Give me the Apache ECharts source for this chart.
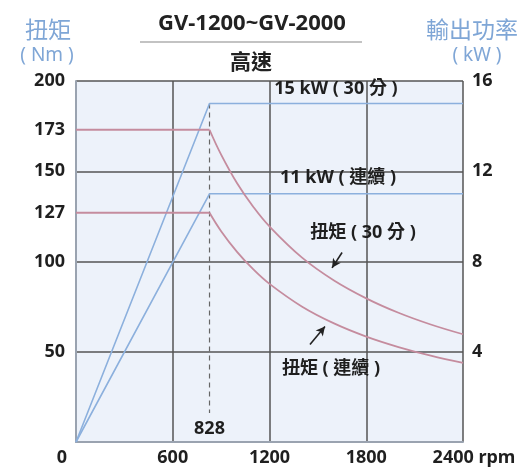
<!DOCTYPE html>
<html><head><meta charset="utf-8">
<script src="https://cdn.jsdelivr.net/npm/echarts@6/dist/echarts.min.js"></script>
<style>html,body{margin:0;padding:0;background:#fff}#c{width:532px;height:470px}</style>
</head><body><div id="c"></div>
<script>
// ---- data ----
const rpmTicks = [0, 600, 1200, 1800, 2400];
const torqueTicks = [50, 100, 127, 150, 173, 200];
const powerTicks = [4, 8, 12, 16];
const baseRpm = 828;
// output power (kW shown on right axis, plotted in Nm-scale: kW / 0.08)
const power30 = [[0, 0], [828, 187.5], [2400, 187.5]];          // 15 kW
const powerCont = [[0, 0], [828, 137.5], [2400, 137.5]];        // 11 kW
// torque (Nm): constant part and falling part
const torque30Flat = [[0, 173], [828, 173]];
const torque30Fall = [[828, 173], [900, 159.2], [1000, 143.2], [1100, 130.2], [1200, 119.4], [1400, 102.3], [1600, 89.5], [1800, 79.6], [2000, 71.6], [2200, 65.1], [2400, 59.7]];
const torqueContFlat = [[0, 127], [828, 127]];
const torqueContFall = [[828, 127], [900, 116.8], [1000, 105.2], [1100, 95.6], [1200, 87.6], [1400, 75.1], [1600, 65.7], [1800, 58.4], [2000, 52.6], [2200, 47.8], [2400, 43.8]];
const baseLine = [[828, 187.5], [828, 16]];
const arrow30 = [[1650, 105], [1588, 96.5]];
const arrowCont = [[1451, 54], [1544, 64]];

const F = "'Noto Sans','Noto Sans CJK TC',sans-serif";
const BLUE = '#8cb0dd', PINK = '#c58c9e', GRID = '#555', EDGE = '#9aa3b0', TXT = '#1f1f1f', HEAD = '#7fa6d6';

const chart = echarts.init(document.getElementById('c'));
const tick = { fontFamily: F, fontSize: 18, fontWeight: 'bold', color: TXT };
chart.setOption({
  animation: false,
  grid: { left: 76, right: 69, top: 81, bottom: 28, show: true, backgroundColor: '#edf2fa', borderWidth: 0 },
  xAxis: {
    type: 'value', min: 0, max: 2400, interval: 600,
    axisLine: { show: true, lineStyle: { color: EDGE, width: 2 } },
    axisTick: { show: false },
    splitLine: { show: true, lineStyle: { color: [EDGE, GRID, GRID, GRID, GRID], width: 1.5 } },
    axisLabel: Object.assign({}, tick, {
      margin: 7,
      formatter: v => v === 0 ? '{z|0}' : (v === 2400 ? '{e|2400 rpm}' : String(v)),
      rich: { z: Object.assign({}, tick, { padding: [0, 28, 0, 0] }),
              e: Object.assign({}, tick, { padding: [0, 0, 0, 22] }) }
    })
  },
  yAxis: [{
    type: 'value', min: 0, max: 200, position: 'left',
    axisLine: { show: true, lineStyle: { color: EDGE, width: 2 } },
    axisTick: { show: false }, splitLine: { show: false },
    axisLabel: Object.assign({}, tick, { customValues: torqueTicks, margin: 11 })
  }, {
    type: 'value', min: 0, max: 16, interval: 4, position: 'right',
    axisLine: { show: false }, axisTick: { show: false },
    splitLine: { show: true, lineStyle: { color: [EDGE, GRID, GRID, GRID, GRID], width: 1.5 } },
    axisLabel: Object.assign({}, tick, { margin: 9,
      formatter: v => powerTicks.includes(v) ? String(v) : '' })
  }],
  series: [
    { type: 'line', data: power30, symbol: 'none', lineStyle: { color: BLUE, width: 1.6 }, z: 3 },
    { type: 'line', data: powerCont, symbol: 'none', lineStyle: { color: BLUE, width: 1.6 }, z: 3 },
    { type: 'line', data: torque30Flat, symbol: 'none', lineStyle: { color: PINK, width: 1.8 }, z: 3 },
    { type: 'line', data: torque30Fall, symbol: 'none', smooth: 0.4, lineStyle: { color: PINK, width: 1.8 }, z: 3 },
    { type: 'line', data: torqueContFlat, symbol: 'none', lineStyle: { color: PINK, width: 1.8 }, z: 3 },
    { type: 'line', data: torqueContFall, symbol: 'none', smooth: 0.4, lineStyle: { color: PINK, width: 1.8 }, z: 3 },
    { type: 'line', data: baseLine, symbol: 'none', lineStyle: { color: '#666', width: 1.2, type: [5, 4] }, z: 2,
      markPoint: { symbol: 'circle', symbolSize: 2, silent: true, itemStyle: { color: 'rgba(0,0,0,0)' },
        data: [{ coord: [baseRpm, 7.5], value: baseRpm }],
        label: { show: true, position: 'inside', fontFamily: F, fontSize: 18, fontWeight: 'bold', color: TXT, formatter: String(baseRpm) } } },
    { type: 'line', data: [], symbol: 'none',
      markLine: { silent: true, symbol: ['none', 'arrow'], symbolSize: [7, 9],
        lineStyle: { color: '#222', width: 1.6, type: 'solid' }, label: { show: false },
        data: [[{ coord: arrow30[0] }, { coord: arrow30[1] }], [{ coord: arrowCont[0] }, { coord: arrowCont[1] }]] } }
  ],
  graphic: [
    { type: 'text', style: { text: 'GV-1200~GV-2000', font: `bold 22px ${F}`, fill: '#222', x: 252, y: 24, align: 'center', verticalAlign: 'middle' } },
    { type: 'line', shape: { x1: 140, y1: 42, x2: 362, y2: 42 }, style: { stroke: '#888', lineWidth: 1.2 } },
    { type: 'text', style: { text: '高速', font: `bold 21px ${F}`, fill: '#222', x: 251, y: 63, align: 'center', verticalAlign: 'middle' } },
    { type: 'text', style: { text: '扭矩', font: `23px ${F}`, fill: HEAD, x: 48, y: 31, align: 'center', verticalAlign: 'middle' } },
    { type: 'text', style: { text: '( Nm )', font: `19px ${F}`, fill: HEAD, x: 47, y: 56, align: 'center', verticalAlign: 'middle' } },
    { type: 'text', style: { text: '輸出功率', font: `23px ${F}`, fill: HEAD, x: 472, y: 31, align: 'center', verticalAlign: 'middle' } },
    { type: 'text', style: { text: '( kW )', font: `19px ${F}`, fill: HEAD, x: 477, y: 56, align: 'center', verticalAlign: 'middle' } },
    { type: 'text', z: 10, style: { text: '15 kW ( 30 分 )', font: `bold 18px ${F}`, fill: TXT, x: 336, y: 89, align: 'center', verticalAlign: 'middle' } },
    { type: 'text', z: 10, style: { text: '11 kW ( 連續 )', font: `bold 18px ${F}`, fill: TXT, x: 338, y: 178, align: 'center', verticalAlign: 'middle' } },
    { type: 'text', z: 10, style: { text: '扭矩 ( 30 分 )', font: `bold 18px ${F}`, fill: TXT, x: 363, y: 233, align: 'center', verticalAlign: 'middle' } },
    { type: 'text', z: 10, style: { text: '扭矩 ( 連續 )', font: `bold 18px ${F}`, fill: TXT, x: 331, y: 369, align: 'center', verticalAlign: 'middle' } }
  ]
});
</script></body></html>
